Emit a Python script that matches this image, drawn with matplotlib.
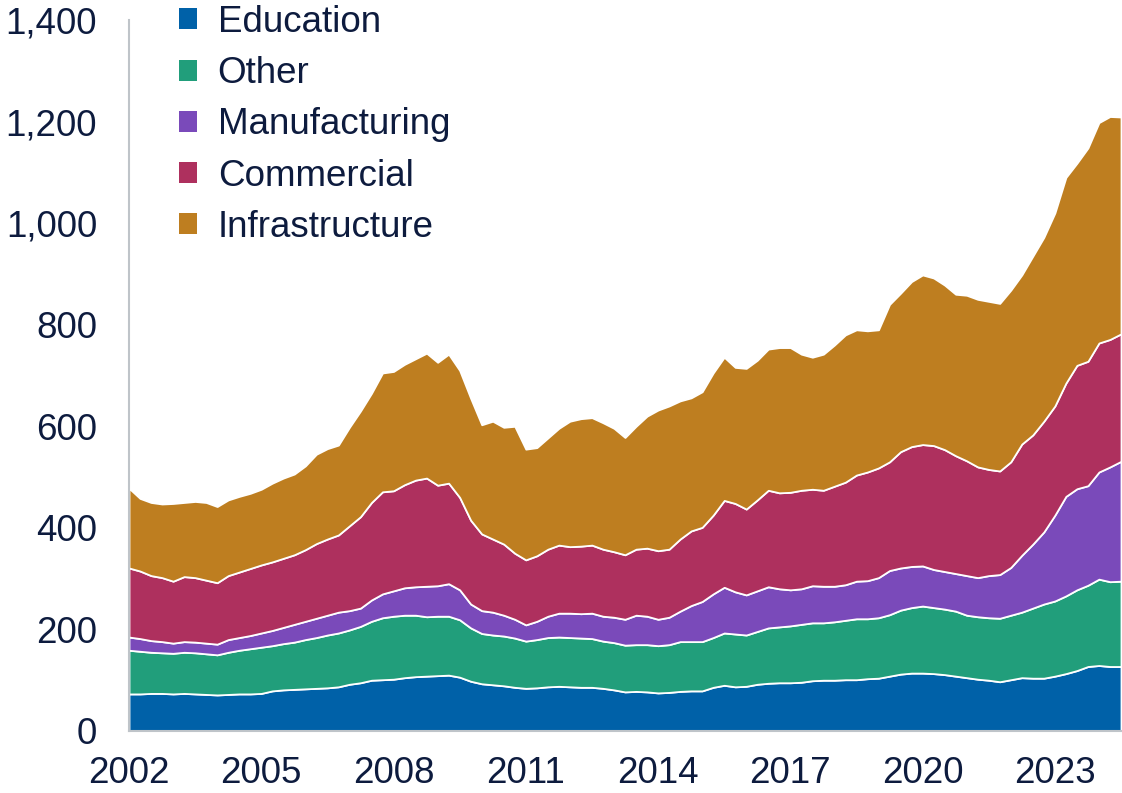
import numpy as np
import matplotlib
matplotlib.use("Agg")
import matplotlib.pyplot as plt
from matplotlib.patches import Patch
from matplotlib.ticker import FuncFormatter

plt.rcParams["font.family"] = ["Liberation Sans", "DejaVu Sans"]

# quarterly points, Jan 2002 .. Jul 2024
years = 2002 + np.arange(91) / 4

labels = ["Education", "Other", "Manufacturing", "Commercial", "Infrastructure"]
colors = ["#0061A8", "#219E7B", "#7A4ABA", "#AE305E", "#BE7E20"]

education = [73, 73, 74, 74, 73, 74, 73, 72, 71, 72, 73, 73, 74, 79, 81, 82,
             83, 84, 85, 87, 92, 95, 100, 101, 102, 105, 107, 108, 109, 110, 106, 98,
             93, 91, 89, 86, 84, 85, 87, 88, 87, 86, 86, 84, 81, 77, 78, 77,
             75, 76, 78, 79, 79, 86, 90, 87, 88, 92, 94, 95, 95, 96, 99, 100,
             100, 101, 101, 103, 104, 108, 112, 114, 114, 113, 111, 108, 105, 102, 100, 97,
             101, 105, 104, 104, 108, 113, 119, 127, 129, 127, 127]
other = [86, 84, 81, 80, 80, 81, 81, 80, 79, 83, 86, 89, 91, 89, 91, 93,
         97, 100, 104, 106, 107, 111, 116, 122, 124, 123, 121, 117, 117, 116, 113, 105,
         99, 98, 98, 97, 93, 95, 97, 97, 97, 97, 96, 93, 93, 92, 92, 93,
         93, 94, 98, 97, 97, 98, 103, 104, 101, 104, 109, 110, 112, 114, 114, 113,
         115, 117, 120, 118, 119, 121, 126, 129, 132, 130, 129, 128, 123, 123, 123, 125,
         127, 129, 138, 146, 148, 153, 159, 160, 170, 167, 168]
manufacturing = [26, 25, 23, 22, 20, 21, 21, 21, 21, 25, 25, 26, 28, 30, 32, 35,
                 36, 38, 39, 41, 38, 36, 42, 47, 50, 54, 56, 60, 60, 64, 59, 47,
                 45, 45, 41, 37, 32, 36, 42, 47, 48, 48, 50, 49, 50, 51, 58, 56,
                 52, 54, 60, 71, 79, 86, 90, 83, 79, 80, 81, 75, 71, 70, 73, 72,
                 70, 70, 74, 75, 79, 87, 83, 81, 79, 75, 74, 74, 78, 77, 83, 86,
                 94, 112, 126, 142, 169, 196, 199, 196, 211, 226, 236]
commercial = [136, 133, 128, 126, 122, 128, 127, 124, 121, 126, 129, 132, 134, 135, 136, 137,
              141, 147, 150, 152, 167, 180, 192, 201, 197, 203, 210, 213, 198, 198, 182, 165,
              151, 144, 140, 130, 128, 129, 132, 134, 131, 133, 134, 132, 129, 127, 130, 134,
              135, 134, 142, 147, 146, 155, 171, 174, 169, 179, 190, 189, 192, 194, 190, 189,
              197, 202, 209, 214, 216, 214, 229, 236, 239, 244, 240, 232, 226, 218, 209, 204,
              208, 219, 215, 218, 215, 223, 243, 245, 254, 251, 251]
infrastructure = [157, 143, 144, 145, 153, 146, 150, 153, 150, 149, 149, 148, 149, 155, 158, 159,
                  165, 176, 178, 177, 194, 208, 215, 234, 235, 237, 239, 246, 242, 254, 250, 240,
                  215, 232, 230, 250, 218, 213, 219, 230, 247, 251, 251, 249, 243, 231, 242, 260,
                  277, 282, 272, 262, 267, 280, 282, 268, 277, 275, 278, 286, 285, 268, 260, 268,
                  278, 290, 286, 278, 272, 310, 312, 325, 334, 330, 324, 318, 326, 330, 331, 330,
                  338, 333, 352, 362, 380, 405, 398, 420, 434, 439, 427]

text_color = "#0D1B3E"
spine_color = "#BFC4C9"

fig = plt.figure(figsize=(11.22, 7.93), dpi=100)
ax = fig.add_axes([129 / 1122, 1 - 731 / 793, (1121 - 129) / 1122, (731 - 20) / 793])

ax.stackplot(years, education, other, manufacturing, commercial, infrastructure,
             colors=colors, edgecolor="white", linewidth=1.3)

ax.set_xlim(2002, 2024.5)
ax.set_ylim(0, 1400)
ax.set_xticks([2002, 2005, 2008, 2011, 2014, 2017, 2020, 2023])
ax.set_yticks(range(0, 1401, 200))
ax.yaxis.set_major_formatter(FuncFormatter(lambda v, p: f"{int(v):,}"))
ax.xaxis.set_major_formatter(FuncFormatter(lambda v, p: f"{int(v)}"))
ax.tick_params(axis="both", length=0, labelsize=26.5, labelcolor=text_color)
ax.tick_params(axis="y", pad=23)
ax.tick_params(axis="x", pad=18)

for side in ["top", "right"]:
    ax.spines[side].set_visible(False)
for side in ["left", "bottom"]:
    ax.spines[side].set_color(spine_color)
    ax.spines[side].set_linewidth(1.5)

handles = [Patch(facecolor=c, edgecolor="none") for c in colors]
leg = ax.legend(handles, labels, loc="upper left", bbox_to_anchor=(179 / 1122, 1 - 5 / 793),
                bbox_transform=fig.transFigure, frameon=False, fontsize=26.5,
                handlelength=0.5, handleheight=0.5, handletextpad=0.55,
                labelspacing=0.44, borderaxespad=0, borderpad=0)
for t in leg.get_texts():
    t.set_color(text_color)

fig.savefig("out.png", dpi=100)
